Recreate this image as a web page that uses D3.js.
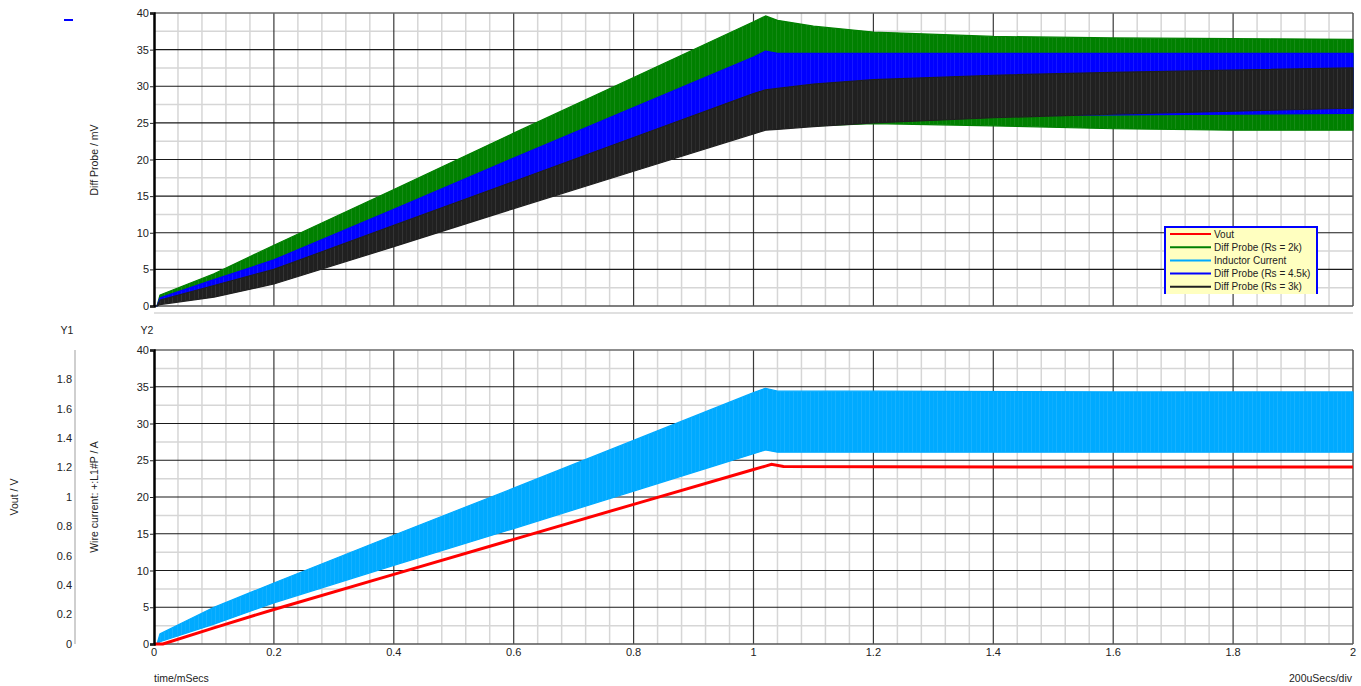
<!DOCTYPE html>
<html>
<head>
<meta charset="utf-8">
<script src="https://cdn.jsdelivr.net/npm/d3@7"></script>
<style>
  html, body { margin: 0; padding: 0; background: #fff; }
  svg { display: block; font-family: "Liberation Sans", Arial, sans-serif; }
</style>
</head>
<body>
<svg id="chart" width="1361" height="686"></svg>
<script>
// Time base (ms) for all envelope samples
const tBand = [0, 0.005, 0.01, 0.1, 0.2, 0.4, 0.6, 0.8, 1.0, 1.02, 1.04, 1.1, 1.2, 1.4, 1.6, 1.8, 2.0];

// Diff probe ripple envelopes (mV): upper / lower edges of each switching band
const green2kHi  = [0, 0, 1.5, 4.4, 8.3, 15.9, 23.6, 31.2, 38.8, 39.6, 39.0, 38.2, 37.4, 36.8, 36.6, 36.5, 36.4];
const green2kLo  = [0, 0, 0.5, 1.5, 3.3, 8.4, 13.6, 18.7, 23.8, 24.3, 24.4, 24.6, 24.9, 24.6, 24.2, 24.0, 24.0];
const blue45kHi  = [0, 0, 1.1, 3.6, 6.3, 13.2, 20.2, 27.1, 34.0, 34.8, 34.5, 34.5, 34.5, 34.5, 34.5, 34.5, 34.5];
const blue45kLo  = [0, 0, 0.6, 1.8, 3.6, 8.7, 13.9, 19.0, 24.1, 24.6, 24.7, 25.1, 25.5, 26.0, 26.1, 26.2, 26.3];
const black3kHi  = [0, 0, 0.8, 2.8, 5.0, 11.0, 17.0, 23.0, 29.0, 29.5, 29.7, 30.3, 30.9, 31.5, 31.9, 32.2, 32.5];
const black3kLo  = [0, 0, 0.2, 1.2, 3.0, 8.1, 13.3, 18.4, 23.5, 24.0, 24.1, 24.5, 25.0, 25.7, 26.2, 26.6, 27.0];

// Inductor current ripple envelope (A)
const tCur = [0, 0.005, 0.01, 0.1, 0.2, 0.4, 0.6, 0.8, 1.0, 1.02, 1.04, 1.2, 1.6, 2.0];
const curHi = [0, 0, 1.4, 5.0, 8.3, 14.8, 21.2, 27.7, 34.2, 34.8, 34.4, 34.4, 34.3, 34.3];
const curLo = [0, 0, 0.3, 2.7, 5.6, 10.7, 15.7, 20.8, 25.9, 26.4, 26.1, 26.1, 26.1, 26.1];

// Output voltage (V)
const tVout = [0, 0.015, 0.1, 0.2, 0.4, 0.6, 0.8, 1.0, 1.02, 1.03, 1.05, 1.2, 1.6, 2.0];
const vout  = [0, 0, 0.11, 0.235, 0.474, 0.712, 0.95, 1.187, 1.21, 1.222, 1.208, 1.205, 1.204, 1.204];

// Axis ticks
const xTicks   = [0, 0.2, 0.4, 0.6, 0.8, 1, 1.2, 1.4, 1.6, 1.8, 2];
const y2Ticks  = [0, 5, 10, 15, 20, 25, 30, 35, 40];
const y1Ticks  = [0, 0.2, 0.4, 0.6, 0.8, 1, 1.2, 1.4, 1.6, 1.8];

const legendNames  = ["Vout", "Diff Probe (Rs = 2k)", "Inductor Current", "Diff Probe (Rs = 4.5k)", "Diff Probe (Rs = 3k)"];
const legendColors = ["#ff0000", "#008000", "#00aaff", "#0000ff", "#202020"];

const svg = d3.select("#chart");
const defs = svg.append("defs");

const x    = d3.scaleLinear().domain([0, 2]).range([154, 1353]);
const yTop = d3.scaleLinear().domain([0, 40]).range([306, 13]);
const yBot = d3.scaleLinear().domain([0, 40]).range([644, 350]);
const yV   = d3.scaleLinear().domain([0, 2]).range([644, 350]);

// switching-ripple fill: solid colour with faint lighter vertical streaks
function rippleFill(id, color) {
  const p = defs.append("pattern").attr("id", id).attr("patternUnits", "userSpaceOnUse")
    .attr("width", 17).attr("height", 20);
  p.append("rect").attr("width", 17).attr("height", 20).attr("fill", color);
  [2, 7, 11, 15].forEach((off, i) => {
    p.append("rect").attr("x", off).attr("y", 0).attr("width", 0.8).attr("height", 20)
      .attr("fill", "#fff").attr("opacity", i % 2 ? 0.06 : 0.11);
  });
  return `url(#${id})`;
}

function grid(g, y) {
  const [y0, y1] = y.range();
  const minorX = d3.range(0, 2.0001, 0.04).filter(v => Math.abs(v / 0.2 - Math.round(v / 0.2)) > 1e-6);
  const minorY = d3.range(2.5, 40, 5);
  g.selectAll(".mx").data(minorX).join("line")
    .attr("x1", d => x(d)).attr("x2", d => x(d)).attr("y1", y1).attr("y2", y0)
    .attr("stroke", "#d6d6d6").attr("stroke-width", 1.5);
  g.selectAll(".my").data(minorY).join("line")
    .attr("x1", x(0)).attr("x2", x(2)).attr("y1", d => y(d)).attr("y2", d => y(d))
    .attr("stroke", "#d6d6d6").attr("stroke-width", 1.5);
  g.selectAll(".Mx").data(xTicks.slice(1, -1)).join("line")
    .attr("x1", d => x(d)).attr("x2", d => x(d)).attr("y1", y1).attr("y2", y0)
    .attr("stroke", "#3a3a3a").attr("stroke-width", 1.2);
  g.selectAll(".My").data(y2Ticks.slice(1, -1)).join("line")
    .attr("x1", x(0)).attr("x2", x(2)).attr("y1", d => y(d)).attr("y2", d => y(d))
    .attr("stroke", "#1a1a1a").attr("stroke-width", 1.2);
  // frame
  g.append("line").attr("x1", x(0)).attr("x2", x(2)).attr("y1", y1).attr("y2", y1)
    .attr("stroke", "#6a6a6a").attr("stroke-width", 1.5);
  g.append("line").attr("x1", x(0)).attr("x2", x(2)).attr("y1", y0).attr("y2", y0)
    .attr("stroke", "#555").attr("stroke-width", 1.5);
  g.append("line").attr("x1", x(2)).attr("x2", x(2)).attr("y1", y1).attr("y2", y0)
    .attr("stroke", "#555").attr("stroke-width", 1.5);
}

function leftAxis(g, y) {
  const ax = d3.axisLeft(y).tickValues(y2Ticks).tickSize(4).tickPadding(1).tickFormat(d3.format("d"));
  g.attr("transform", `translate(${x(0)},0)`).call(ax);
  g.select(".domain").attr("stroke", "#000").attr("stroke-width", 2.5);
  g.selectAll(".tick line").attr("stroke", "#222");
  g.selectAll(".tick text").attr("font-size", 11).attr("fill", "#222")
    .attr("font-family", '"Liberation Sans", Arial, sans-serif');
}

function band(g, t, hi, lo, y, color, id) {
  const data = t.map((tv, i) => ({ t: tv, hi: hi[i], lo: lo[i] }));
  const area = d3.area().x(d => x(d.t)).y0(d => y(d.lo)).y1(d => y(d.hi));
  g.append("path").datum(data).attr("d", area).attr("fill", rippleFill(id, color))
    .attr("stroke", color).attr("stroke-width", 1.2).attr("stroke-linejoin", "round");
}

// ---------- upper pane: differential probe ----------
const paneTop = svg.append("g");
grid(paneTop, yTop);
const topMarks = paneTop.append("g");
band(topMarks, tBand, green2kHi, green2kLo, yTop, "#008000", "rip-green");
band(topMarks, tBand, blue45kHi, blue45kLo, yTop, "#0000ff", "rip-blue");
band(topMarks, tBand, black3kHi, black3kLo, yTop, "#202020", "rip-black");
leftAxis(paneTop.append("g"), yTop);

// ---------- lower pane: inductor current + Vout ----------
const paneBot = svg.append("g");
grid(paneBot, yBot);
const botMarks = paneBot.append("g");
band(botMarks, tCur, curHi, curLo, yBot, "#00aaff", "rip-cyan");
botMarks.append("path")
  .datum(tVout.map((tv, i) => ({ t: tv, v: vout[i] })))
  .attr("d", d3.line().x(d => x(d.t)).y(d => yV(d.v)))
  .attr("fill", "none").attr("stroke", "#ff0000").attr("stroke-width", 3);
leftAxis(paneBot.append("g"), yBot);

// Y1 (Vout) axis on the far left
const y1g = svg.append("g");
y1g.append("line").attr("x1", 75).attr("x2", 75).attr("y1", yV(2)).attr("y2", yV(0))
  .attr("stroke", "#cfcfcf").attr("stroke-width", 2);
y1g.selectAll("text").data(y1Ticks).join("text")
  .attr("x", 72).attr("y", d => yV(d)).attr("dy", "0.35em")
  .attr("text-anchor", "end").attr("font-size", 11).attr("fill", "#222")
  .text(d => d3.format("~g")(d));

// bottom time axis labels
svg.append("g").selectAll("text").data(xTicks).join("text")
  .attr("x", d => x(d)).attr("y", 656)
  .attr("text-anchor", "middle").attr("font-size", 11).attr("fill", "#222")
  .text(d => d3.format("~g")(d));

// pane separator
svg.append("line").attr("x1", x(0)).attr("x2", x(2)).attr("y1", 313).attr("y2", 313)
  .attr("stroke", "#d6d6d6").attr("stroke-width", 1.5);

// ---------- titles ----------
const txt = (xp, yp, s, opts = {}) => svg.append("text")
  .attr("x", xp).attr("y", yp).attr("font-size", opts.size || 11).attr("fill", "#222")
  .attr("text-anchor", opts.anchor || "start")
  .attr("transform", opts.rot ? `rotate(-90,${xp},${yp})` : null)
  .text(s);

txt(98, 160, "Diff Probe / mV", { rot: true, anchor: "middle", size: 10.5 });
txt(98, 497, "Wire current: +:L1#P / A", { rot: true, anchor: "middle", size: 10.5 });
txt(18, 497, "Vout / V", { rot: true, anchor: "middle", size: 10.5 });
txt(67, 334, "Y1", { anchor: "middle", size: 10.5 });
txt(147, 334, "Y2", { anchor: "middle", size: 10.5 });
txt(154, 682, "time/mSecs", { size: 10.5 });
txt(1352, 682, "200uSecs/div", { anchor: "end", size: 10.5 });

svg.append("line").attr("x1", 64).attr("x2", 73).attr("y1", 20).attr("y2", 20)
  .attr("stroke", "#0000ff").attr("stroke-width", 2);

// ---------- legend (clipped at the pane bottom) ----------
svg.append("clipPath").attr("id", "legclip").append("rect")
  .attr("x", 1150).attr("y", 220).attr("width", 200).attr("height", 74);
const leg = svg.append("g").attr("clip-path", "url(#legclip)");
leg.append("rect").attr("x", 1165).attr("y", 227).attr("width", 152).attr("height", 80)
  .attr("fill", "#ffffc0").attr("stroke", "#0000ff").attr("stroke-width", 2);
const rows = leg.selectAll("g.row").data(legendNames).join("g")
  .attr("transform", (d, i) => `translate(0,${234 + i * 13.2})`);
rows.append("line").attr("x1", 1170).attr("x2", 1211).attr("y1", 0).attr("y2", 0)
  .attr("stroke", (d, i) => legendColors[i]).attr("stroke-width", 2);
rows.append("text").attr("x", 1214).attr("y", 0).attr("dy", "0.35em")
  .attr("font-size", 10).attr("fill", "#222").text(d => d);
</script>
</body>
</html>
